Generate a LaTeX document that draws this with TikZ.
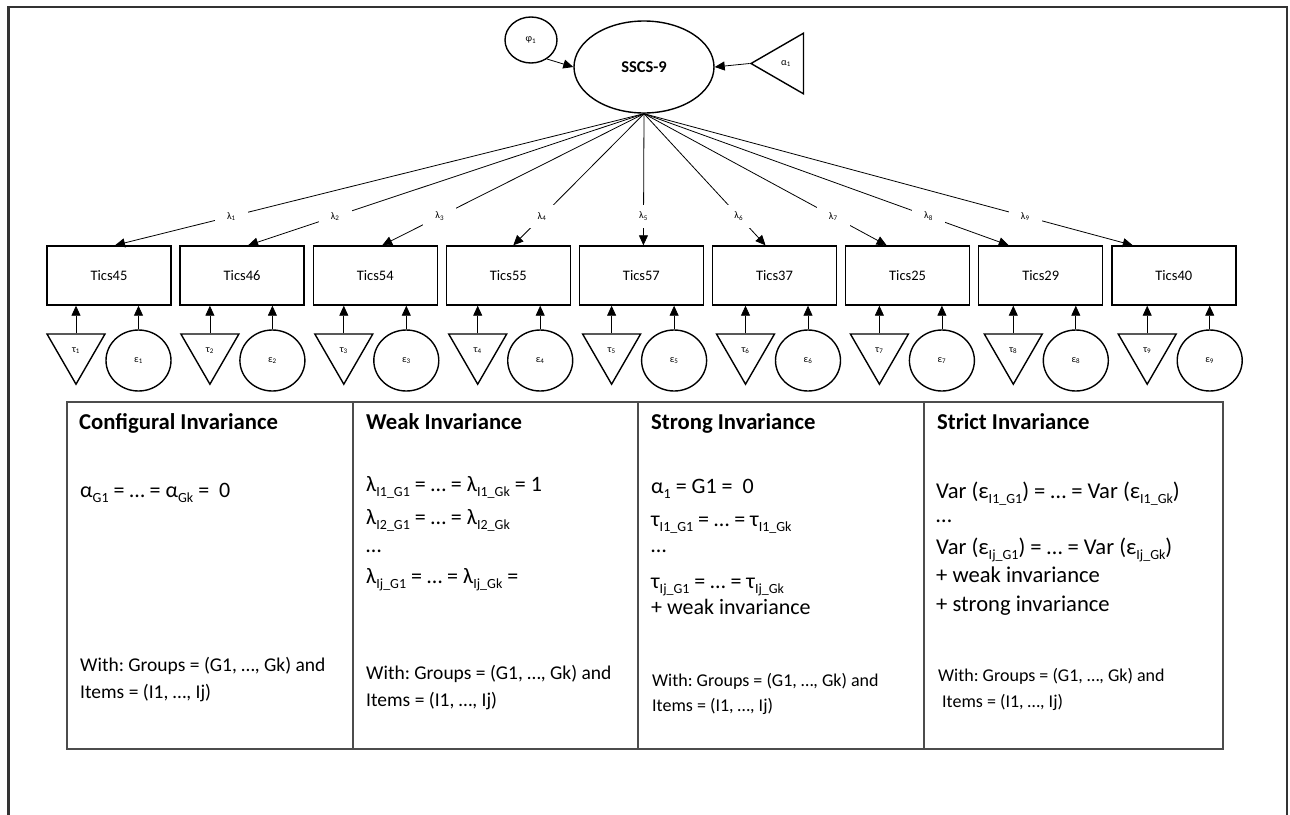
\documentclass[tikz,border=0pt]{standalone}
\usepackage{fontspec}
\setmainfont{Carlito}
\usetikzlibrary{shapes.geometric,arrows.meta,calc}
\newcommand\sbs[1]{\raisebox{-0.25em}{\fontsize{14}{14}\selectfont #1}}
\frenchspacing
\begin{document}
\begin{tikzpicture}[x=1pt,y=-1pt,
  every node/.style={font=\fontsize{14.5}{17}\selectfont},
  obs/.style={draw,line width=1.4pt,minimum width=124pt,minimum height=59pt,inner sep=0pt},
  latent/.style={draw,ellipse,line width=1.4pt,inner sep=0pt},
  tri/.style={draw,regular polygon,regular polygon sides=3,line width=1.4pt,inner sep=0pt,minimum size=67pt},
  arr/.style={-{Triangle[length=10pt,width=9pt]},line width=0.8pt},
  lam/.style={fill=white,inner xsep=12pt,inner ysep=7pt,font=\fontsize{10}{10}\selectfont},
  small/.style={font=\fontsize{10}{10}\selectfont},
  ttl/.style={anchor=base west,inner sep=0pt,font=\bfseries\fontsize{22.7}{22.7}\selectfont},
  eq/.style={anchor=base west,inner sep=0pt,font=\fontsize{22}{22}\selectfont},
  eqb/.style={anchor=base west,inner sep=0pt,font=\fontsize{22.6}{22.6}\selectfont},
  note/.style={anchor=base west,inner sep=0pt,font=\fontsize{19.5}{19.5}\selectfont},
  notes/.style={anchor=base west,inner sep=0pt,font=\fontsize{18}{18}\selectfont},
  tbl/.style={line width=1.5pt,draw=black!70}
]
\useasboundingbox (0,0) rectangle (1290,814);
% outer frame
\draw[line width=2.5pt,draw=black!80] (8.5,830) -- (8.5,7) -- (1287,7) -- (1287,830);

% latent variable and its parameters
\node[latent,minimum width=140pt,minimum height=92pt,font=\bfseries\fontsize{16.5}{18}\selectfont] (ss) at (644,67) {SSCS-9};
\node[latent,minimum width=52pt,minimum height=46pt,small] (phi) at (531,40) {φ\textsubscript{1}};
\node[tri,shape border rotate=90,minimum size=70pt,small] (al) at (786,63.5) {α\textsubscript{1}};
\draw[arr] (phi.-50) -- (ss.west);
\draw[arr] (al.corner 1) -- (ss.east);

% items
\foreach \i/\nm/\dx in {0/45/6, 1/46/6, 2/54/7, 3/55/5, 4/57/2, 5/37/-9, 6/25/-21, 7/29/-32, 8/40/-41} {
  \pgfmathsetmacro\bx{109+133.1*\i}
  \pgfmathsetmacro\tx{76+133.9*\i}
  \pgfmathsetmacro\cx{138.5+133.9*\i}
  \pgfmathtruncatemacro\k{\i+1}
  \node[obs] (b\k) at (\bx,275.5) {Tics\nm};
  \node[tri,shape border rotate=180,small] (t\k) at (\tx,350.7) {τ\textsubscript{\k}};
  \node[latent,minimum width=65pt,minimum height=61pt,small] (e\k) at (\cx,360.5) {ε\textsubscript{\k}};
  \coordinate (tt\k) at ($(t\k.corner 2)!0.5!(t\k.corner 3)$);
  \draw[arr] (tt\k) -- (tt\k |- b\k.south);
  \draw[arr] (e\k.north) -- (e\k.north |- b\k.south);
  \draw[arr] (ss.south) -- node[lam,pos=0.78]{λ\textsubscript{\k}} ($(b\k.north)+(\dx,0)$);
}

% table
\draw[tbl] (67,402) rectangle (1223,749);
\draw[tbl] (353,402) -- (353,749);
\draw[tbl] (638,402) -- (638,749);
\draw[tbl] (924,402) -- (924,749);

% column 1
\node[ttl] (c1t) at (79,429) {Configural Invariance};
\node[eq] (c1a) at (80,497) {α\sbs{G1} = … = α\sbs{Gk} =\ \ 0};
\node[note] (c1w) at (80,671) {With: Groups = (G1, …, Gk) and};
\node[note] (c1i) at (80,698) {Items = (I1, …, Ij)};

% column 2
\node[ttl] (c2t) at (366,429) {Weak Invariance};
\node[eq] (c2a) at (366,491) {λ\sbs{I1\_G1} = … = λ\sbs{I1\_Gk} = 1};
\node[eq] (c2b) at (366,524) {λ\sbs{I2\_G1} = … = λ\sbs{I2\_Gk}};
\node[eq] (c2c) at (366,552) {…};
\node[eq] (c2d) at (366,583) {λ\sbs{Ij\_G1} = … = λ\sbs{Ij\_Gk} =};
\node[note] (c2w) at (366,679) {With: Groups = (G1, …, Gk) and};
\node[note] (c2i) at (366,706) {Items = (I1, …, Ij)};

% column 3
\node[ttl] (c3t) at (651,429) {Strong Invariance};
\node[eq] (c3a) at (651,493) {α\sbs{1} = G1 =\ \ 0};
\node[eq] (c3b) at (651,526) {τ\sbs{I1\_G1} = … = τ\sbs{I1\_Gk}};
\node[eq] (c3c) at (651,552) {…};
\node[eq] (c3d) at (651,588) {τ\sbs{Ij\_G1} = … = τ\sbs{Ij\_Gk}};
\node[eq] (c3e) at (651,614) {+ weak invariance};
\node[notes] (c3w) at (652,686) {With: Groups = (G1, …, Gk) and};
\node[notes] (c3i) at (652,711) {Items = (I1, …, Ij)};

% column 4
\node[ttl] (c4t) at (937,429) {Strict Invariance};
\node[eqb] (c4a) at (936,498) {Var (ε\sbs{I1\_G1}) = … = Var (ε\sbs{I1\_Gk})};
\node[eqb] (c4b) at (936,522) {…};
\node[eqb] (c4c) at (936,554) {Var (ε\sbs{Ij\_G1}) = … = Var (ε\sbs{Ij\_Gk})};
\node[eqb] (c4d) at (936,582) {+ weak invariance};
\node[eqb] (c4e) at (936,611) {+ strong invariance};
\node[notes] (c4w) at (938,681) {With: Groups = (G1, …, Gk) and};
\node[notes] (c4i) at (942,707) {Items = (I1, …, Ij)};
\end{tikzpicture}
\end{document}
